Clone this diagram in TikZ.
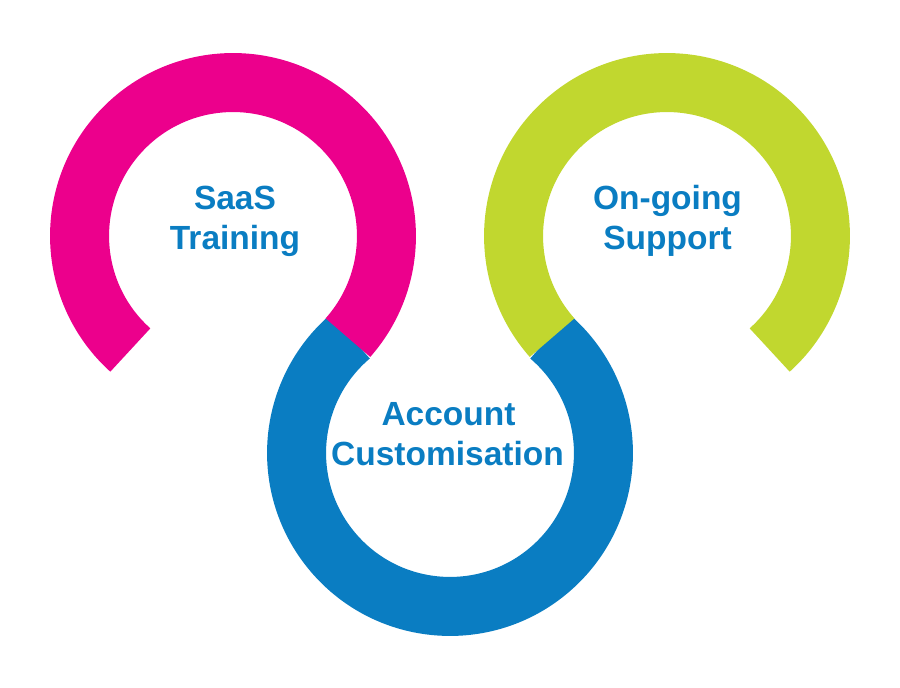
\documentclass[tikz,border=0pt]{standalone}
\usepackage{fontspec}
\setmainfont{Liberation Sans}
\definecolor{ringpink}{HTML}{EC008C}
\definecolor{ringblue}{HTML}{0A7DC2}
\definecolor{ringgreen}{HTML}{C1D72F}
\definecolor{textblue}{HTML}{0A7DC2}
\tikzset{
  ring/.style={line width=59pt, line cap=butt},
  lbl/.style={anchor=base, inner sep=0pt, text=textblue,
    font=\fontsize{33.5}{40}\selectfont\bfseries}
}
\begin{document}
\begin{tikzpicture}[x=1pt,y=1pt]
\useasboundingbox (0,0) rectangle (900,688);
\coordinate (cp) at (233,452);
\coordinate (cb) at (450,235);
\coordinate (cg) at (667,452);
\def\rr{153.45pt}
\draw[ring, ringblue] (cb) ++(130.5:\rr) arc[start angle=130.5, end angle=409.5, radius=\rr];
\draw[ring, ringpink] (cp) ++(228:\rr) arc[start angle=228, end angle=-41.5, radius=\rr];
\draw[ring, ringgreen] (cg) ++(221.5:\rr) arc[start angle=221.5, end angle=-48, radius=\rr];
\node[lbl] (saas) at (235,478) {SaaS};
\node[lbl] (training) at (235,438) {Training};
\node[lbl] (ongoing) at (667.5,478) {On-going};
\node[lbl] (support) at (667.5,438) {Support};
\node[lbl] (account) at (448.5,262) {Account};
\node[lbl] (custom) at (447.5,222) {Customisation};
\end{tikzpicture}
\end{document}
